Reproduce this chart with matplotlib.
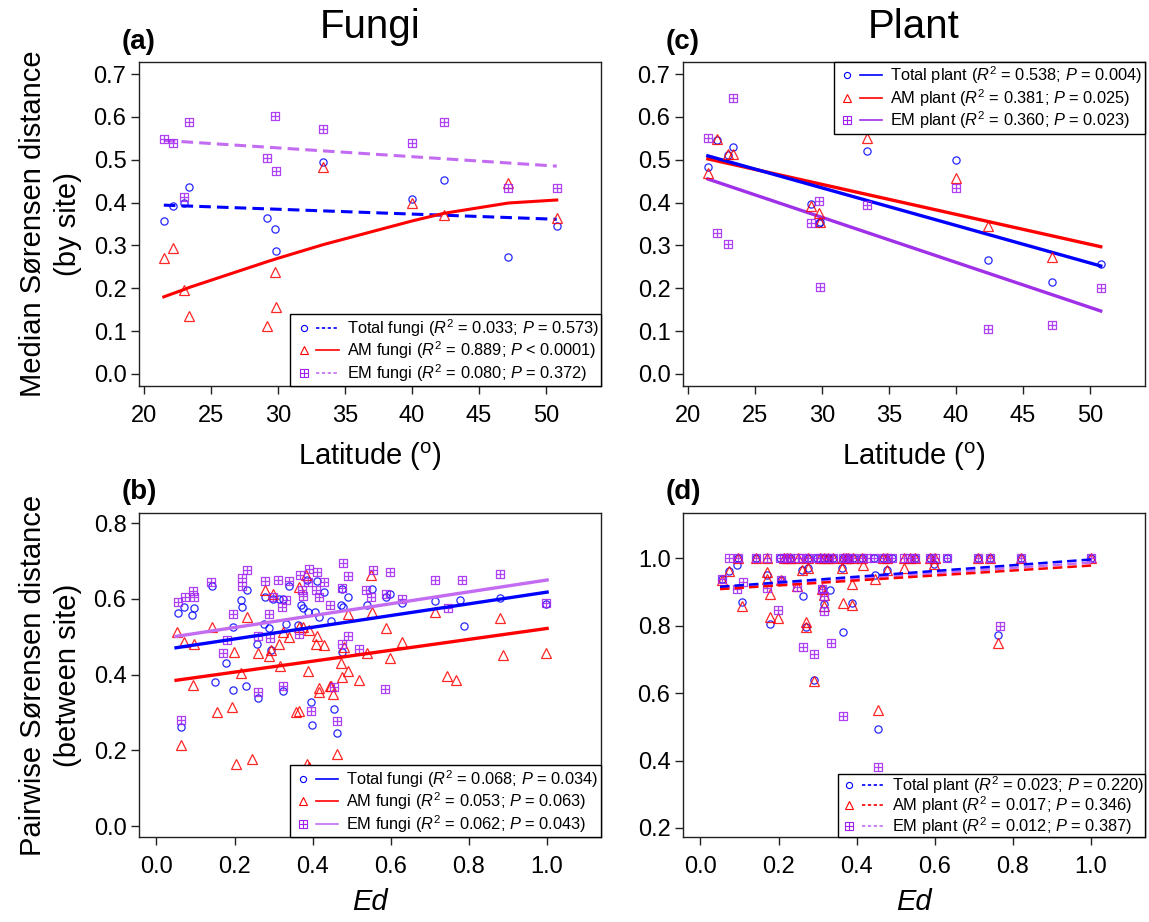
import numpy as np
import matplotlib.pyplot as plt
from matplotlib.path import Path
from matplotlib.lines import Line2D
from matplotlib.legend_handler import HandlerTuple

plt.rcParams['font.family'] = ['Liberation Sans', 'DejaVu Sans']
plt.rcParams['mathtext.fontset'] = 'custom'
plt.rcParams['mathtext.rm'] = 'Liberation Sans'
plt.rcParams['mathtext.it'] = 'Liberation Sans:italic'
plt.rcParams['mathtext.bf'] = 'Liberation Sans:bold'

# ---------------- data ----------------
# (a) fungi, by site
lat_sites = [21.5, 22.2, 23.0, 23.4, 29.2, 29.8, 29.9, 33.4, 40.0, 42.4, 47.2, 50.8]
fungi_total = [0.357, 0.392, 0.400, 0.436, 0.363, 0.338, 0.287, 0.494, 0.408, 0.453, 0.273, 0.345]
fungi_am = [0.271, 0.295, 0.197, 0.135, 0.113, 0.237, 0.157, 0.483, 0.400, 0.370, 0.445, 0.365]
fungi_em = [0.549, 0.540, 0.412, 0.589, 0.505, 0.603, 0.474, 0.572, 0.539, 0.588, 0.435, 0.435]
fungi_am_fit = [0.180, 0.188, 0.197, 0.202, 0.262, 0.268, 0.269, 0.302, 0.357, 0.375, 0.399, 0.406]
lat_range = [21.5, 50.8]
fungi_total_fit = [0.394, 0.361]
fungi_em_fit = [0.545, 0.485]

# (c) plant, by site
plant_total = [0.482, 0.545, 0.510, 0.530, 0.396, 0.353, 0.355, 0.521, 0.499, 0.265, 0.215, 0.257]
lat_am_plant = [21.5, 22.2, 23.0, 23.4, 29.2, 29.8, 29.9, 33.4, 40.0, 42.4, 47.2]
plant_am = [0.470, 0.548, 0.513, 0.513, 0.392, 0.375, 0.355, 0.551, 0.457, 0.346, 0.272]
plant_em = [0.551, 0.330, 0.303, 0.643, 0.353, 0.404, 0.203, 0.394, 0.435, 0.106, 0.114, 0.200]
plant_total_fit = [0.509, 0.252]
plant_am_fit = [0.502, 0.297]
plant_em_fit = [0.455, 0.147]

# (b) fungi, pairwise vs Ed
tb_x = [0.054, 0.071, 0.092, 0.096, 0.141, 0.178, 0.197, 0.216, 0.219, 0.231, 0.258, 0.275, 0.278, 0.289,
        0.292, 0.299, 0.314, 0.323, 0.332, 0.339, 0.363, 0.370, 0.376, 0.385, 0.389, 0.406, 0.410, 0.416,
        0.430, 0.446, 0.472, 0.476, 0.478, 0.474, 0.491, 0.538, 0.553, 0.587, 0.598, 0.629, 0.713, 0.455,
        0.461, 0.063, 0.260, 0.396, 0.399, 0.778, 0.880, 0.998, 0.787, 0.196, 0.324, 0.150, 0.230]
tb_y = [0.563, 0.579, 0.557, 0.575, 0.634, 0.430, 0.526, 0.597, 0.579, 0.623, 0.480, 0.535, 0.605, 0.522,
        0.466, 0.601, 0.601, 0.601, 0.535, 0.634, 0.531, 0.584, 0.577, 0.649, 0.566, 0.566, 0.648, 0.551,
        0.619, 0.542, 0.584, 0.625, 0.579, 0.459, 0.604, 0.585, 0.626, 0.604, 0.613, 0.588, 0.594, 0.309,
        0.245, 0.262, 0.338, 0.327, 0.267, 0.597, 0.602, 0.586, 0.528, 0.359, 0.356, 0.380, 0.370]
ab_x = [0.052, 0.071, 0.096, 0.093, 0.141, 0.198, 0.216, 0.231, 0.261, 0.278, 0.289, 0.292, 0.299, 0.314,
        0.316, 0.323, 0.339, 0.366, 0.366, 0.376, 0.382, 0.387, 0.390, 0.408, 0.410, 0.430, 0.416, 0.447,
        0.472, 0.474, 0.480, 0.489, 0.491, 0.519, 0.538, 0.549, 0.553, 0.587, 0.598, 0.629, 0.713, 0.461,
        0.365, 0.416, 0.443, 0.453, 0.063, 0.155, 0.204, 0.245, 0.386, 0.390, 0.357, 0.194, 0.744, 0.767,
        0.880, 0.888, 0.998]
ab_y = [0.513, 0.485, 0.482, 0.372, 0.526, 0.459, 0.403, 0.551, 0.456, 0.623, 0.450, 0.465, 0.613, 0.480,
        0.422, 0.513, 0.500, 0.632, 0.526, 0.526, 0.663, 0.409, 0.519, 0.480, 0.502, 0.478, 0.364, 0.370,
        0.431, 0.394, 0.473, 0.410, 0.559, 0.385, 0.456, 0.663, 0.566, 0.522, 0.445, 0.485, 0.566, 0.190,
        0.304, 0.355, 0.370, 0.350, 0.214, 0.301, 0.164, 0.177, 0.164, 0.156, 0.301, 0.314, 0.396, 0.385,
        0.549, 0.452, 0.457]
eb_x = [0.054, 0.073, 0.093, 0.096, 0.140, 0.169, 0.180, 0.197, 0.218, 0.220, 0.231, 0.261, 0.278, 0.289,
        0.291, 0.298, 0.312, 0.321, 0.331, 0.339, 0.365, 0.367, 0.372, 0.374, 0.391, 0.389, 0.408, 0.410,
        0.417, 0.430, 0.444, 0.474, 0.474, 0.478, 0.489, 0.491, 0.519, 0.536, 0.549, 0.555, 0.587, 0.598,
        0.629, 0.713, 0.461, 0.455, 0.063, 0.260, 0.324, 0.396, 0.585, 0.746, 0.783, 0.880, 0.998]
eb_y = [0.591, 0.605, 0.620, 0.604, 0.645, 0.456, 0.491, 0.559, 0.654, 0.634, 0.676, 0.502, 0.648, 0.559,
        0.496, 0.604, 0.651, 0.579, 0.597, 0.648, 0.507, 0.663, 0.623, 0.607, 0.680, 0.645, 0.623, 0.671,
        0.605, 0.645, 0.584, 0.628, 0.481, 0.694, 0.502, 0.660, 0.467, 0.623, 0.605, 0.676, 0.613, 0.671,
        0.601, 0.651, 0.278, 0.368, 0.280, 0.354, 0.370, 0.305, 0.362, 0.575, 0.650, 0.665, 0.590]
ed_range = [0.05, 1.0]
fungi_total_ed_fit = [0.471, 0.618]
fungi_am_ed_fit = [0.385, 0.522]
fungi_em_ed_fit = [0.501, 0.650]

# (d) plant, pairwise vs Ed
td_x = [0.097, 0.142, 0.204, 0.229, 0.276, 0.298, 0.315, 0.327, 0.340, 0.366, 0.378, 0.391, 0.413, 0.443,
        0.468, 0.490, 0.549, 0.588, 0.630, 0.711, 0.740, 0.820, 1.000,
        0.093, 0.073, 0.054, 0.107, 0.171, 0.178, 0.205, 0.262, 0.260, 0.276, 0.269, 0.291, 0.310, 0.332,
        0.317, 0.366, 0.389, 0.363, 0.447, 0.478, 0.598, 0.455, 0.762]
td_y = [1.0] * 23 + [0.980, 0.962, 0.938, 0.870, 0.950, 0.805, 0.937, 0.890, 0.965, 0.972, 0.797, 0.640,
                     0.910, 0.906, 0.865, 0.782, 0.869, 0.972, 0.952, 0.967, 0.983, 0.493, 0.772]
ad_x = [0.097, 0.142, 0.171, 0.213, 0.221, 0.229, 0.250, 0.276, 0.306, 0.315, 0.327, 0.340, 0.366, 0.372,
        0.378, 0.391, 0.413, 0.468, 0.477, 0.521, 0.536, 0.549, 0.588, 0.600, 0.711, 0.740, 0.820, 1.000,
        0.073, 0.054, 0.107, 0.171, 0.171, 0.178, 0.178, 0.199, 0.205, 0.246, 0.260, 0.276, 0.269, 0.269,
        0.291, 0.310, 0.316, 0.317, 0.364, 0.389, 0.389, 0.363, 0.415, 0.447, 0.478, 0.521, 0.598, 0.455,
        0.762]
ad_y = [1.0] * 28 + [0.962, 0.935, 0.858, 0.960, 0.940, 0.894, 0.827, 0.824, 0.937, 0.919, 0.965, 0.972,
                     0.812, 0.797, 0.637, 0.908, 0.893, 0.858, 0.869, 0.923, 0.861, 0.972, 0.980, 0.938,
                     0.967, 0.973, 0.983, 0.550, 0.749]
ed_x = [0.072, 0.097, 0.142, 0.171, 0.204, 0.213, 0.221, 0.229, 0.250, 0.262, 0.276, 0.298, 0.306, 0.315,
        0.327, 0.340, 0.366, 0.372, 0.378, 0.391, 0.413, 0.426, 0.443, 0.468, 0.477, 0.490, 0.521, 0.536,
        0.549, 0.588, 0.600, 0.630, 0.711, 0.740, 0.820, 1.000,
        0.054, 0.108, 0.093, 0.171, 0.198, 0.205, 0.246, 0.262, 0.291, 0.310, 0.316, 0.316, 0.333, 0.366,
        0.455, 0.767]
ed_y = [1.0] * 36 + [0.940, 0.929, 0.908, 0.913, 0.847, 0.935, 0.916, 0.736, 0.716, 0.910, 0.890, 0.845,
                     0.750, 0.533, 0.382, 0.800]
plant_total_ed_fit = [0.916, 0.997]
plant_am_ed_fit = [0.909, 0.979]
plant_em_ed_fit = [0.913, 0.988]

# ---------------- styling ----------------
BLUE = '#0000FF'
RED = '#FF0000'
PURPLE = '#A020F0'
PURPLE_LINE = '#C36CF2'
W, H = 1149, 922

sqplus = Path([(-1, -1), (1, -1), (1, 1), (-1, 1), (-1, -1), (0, -1), (0, 1), (-1, 0), (1, 0)],
              [Path.MOVETO, Path.LINETO, Path.LINETO, Path.LINETO, Path.CLOSEPOLY,
               Path.MOVETO, Path.LINETO, Path.MOVETO, Path.LINETO])

MK = {'total': ('o', 5.2, BLUE), 'am': ('^', 7.5, RED), 'em': (sqplus, 6.0, PURPLE)}
DASH = (0, (3.8, 2.0))


def pts(ax, x, y, kind):
    m, ms, c = MK[kind]
    ax.plot(x, y, ls='none', marker=m, ms=ms, mfc='none', mec=c, mew=0.9, alpha=0.85)


def add_axes(px_left, px_top):
    return fig.add_axes([px_left / W, 1 - (px_top + 324) / H, 462 / W, 324 / H])


def style(ax, xticks, yticks, xlim, ylim):
    ax.set_xlim(*xlim)
    ax.set_ylim(*ylim)
    ax.set_xticks(xticks)
    ax.set_yticks(yticks)
    ax.set_yticklabels(['%.1f' % v for v in yticks])
    ax.tick_params(axis='both', direction='out', length=6, width=1, labelsize=17, color='#222222')
    ax.tick_params(axis='x', pad=8)
    ax.tick_params(axis='y', pad=3)
    for s in ax.spines.values():
        s.set_linewidth(1.0)
        s.set_color('#222222')


def legend(ax, labels, lstyles, lcolors, loc, spacing=0.05, bpad=0.15):
    handles = []
    for kind, ls, lc in zip(['total', 'am', 'em'], lstyles, lcolors):
        m, ms, c = MK[kind]
        mh = Line2D([], [], ls='none', marker=m, ms=ms * 0.85, mfc='none', mec=c, mew=0.8)
        lh = Line2D([], [], color=lc, ls=ls, lw=1.2)
        handles.append((mh, lh))
    lg = ax.legend(handles, labels, handler_map={tuple: HandlerTuple(ndivide=None, pad=0.1)},
                   loc=loc, fontsize=11.8, frameon=True, fancybox=False, edgecolor='black',
                   framealpha=1, borderpad=bpad, labelspacing=spacing, handlelength=2.8,
                   handletextpad=0.5, borderaxespad=0)
    lg.get_frame().set_linewidth(1.0)


def lab(name, r2, p, sign='='):
    return r'%s ($\it{R}^2$ = %s; $\it{P}$ %s %s)' % (name, r2, sign, p)


fig = plt.figure(figsize=(W / 100, H / 100), dpi=100)

# (a)
ax = add_axes(139, 62)
ax.plot(lat_range, fungi_em_fit, color=PURPLE_LINE, lw=2.2, ls=DASH)
ax.plot(lat_range, fungi_total_fit, color=BLUE, lw=2.2, ls=DASH)
ax.plot(lat_sites, fungi_am_fit, color=RED, lw=2.2)
pts(ax, lat_sites, fungi_total, 'total')
pts(ax, lat_sites, fungi_am, 'am')
pts(ax, lat_sites, fungi_em, 'em')
style(ax, np.arange(20, 51, 5), np.round(np.arange(0, 0.71, 0.1), 1), (19.65, 54.1), (-0.028, 0.728))
legend(ax, [lab('Total fungi', '0.033', '0.573'), lab('AM fungi', '0.889', '0.0001', '<'),
            lab('EM fungi', '0.080', '0.372')],
       [(0, (2, 1.5)), '-', (0, (2, 1.5))], [BLUE, RED, PURPLE_LINE], 'lower right')

# (c)
ax = add_axes(683, 62)
ax.plot(lat_range, plant_em_fit, color='#A030E8', lw=2.4)
ax.plot(lat_range, plant_am_fit, color=RED, lw=2.4)
ax.plot(lat_range, plant_total_fit, color=BLUE, lw=2.4)
pts(ax, lat_sites, plant_total, 'total')
pts(ax, lat_am_plant, plant_am, 'am')
pts(ax, lat_sites, plant_em, 'em')
style(ax, np.arange(20, 51, 5), np.round(np.arange(0, 0.71, 0.1), 1), (19.65, 54.1), (-0.028, 0.728))
legend(ax, [lab('Total plant', '0.538', '0.004'), lab('AM plant', '0.381', '0.025'),
            lab('EM plant', '0.360', '0.023')],
       ['-', '-', '-'], [BLUE, RED, '#A030E8'], 'upper right')

# (b)
ax = add_axes(139, 513)
pts(ax, tb_x, tb_y, 'total')
pts(ax, ab_x, ab_y, 'am')
pts(ax, eb_x, eb_y, 'em')
ax.plot(ed_range, fungi_em_ed_fit, color=PURPLE_LINE, lw=2.4)
ax.plot(ed_range, fungi_total_ed_fit, color=BLUE, lw=2.4)
ax.plot(ed_range, fungi_am_ed_fit, color=RED, lw=2.4)
style(ax, np.round(np.arange(0, 1.01, 0.2), 1), np.round(np.arange(0, 0.81, 0.2), 1),
      (-0.0448, 1.138), (-0.029, 0.827))
legend(ax, [lab('Total fungi', '0.068', '0.034'), lab('AM fungi', '0.053', '0.063'),
            lab('EM fungi', '0.062', '0.043')],
       ['-', '-', '-'], [BLUE, RED, PURPLE_LINE], 'lower right')

# (d)
ax = add_axes(683, 513)
pts(ax, td_x, td_y, 'total')
pts(ax, ad_x, ad_y, 'am')
pts(ax, ed_x, ed_y, 'em')
ax.plot(ed_range, plant_em_ed_fit, color=PURPLE_LINE, lw=1.8, ls=DASH)
ax.plot(ed_range, plant_am_ed_fit, color=RED, lw=1.8, ls=DASH)
ax.plot(ed_range, plant_total_ed_fit, color=BLUE, lw=1.8, ls=DASH)
style(ax, np.round(np.arange(0, 1.01, 0.2), 1), np.round(np.arange(0.2, 1.01, 0.2), 1),
      (-0.0448, 1.138), (0.173, 1.135))
legend(ax, [lab('Total plant', '0.023', '0.220'), lab('AM plant', '0.017', '0.346'),
            lab('EM plant', '0.012', '0.387')],
       [(0, (2, 1.5))] * 3, [BLUE, RED, PURPLE_LINE], 'lower right', spacing=-0.08, bpad=0.03)

# text
def ftext(x, y, s, **kw):
    fig.text(x / W, 1 - y / H, s, ha='center', va='center', **kw)


ftext(370, 27, 'Fungi', fontsize=29)
ftext(914, 27, 'Plant', fontsize=29)
ftext(139, 42, '(a)', fontsize=20, fontweight='bold')
ftext(683, 42, '(c)', fontsize=20, fontweight='bold')
ftext(139, 492, '(b)', fontsize=20, fontweight='bold')
ftext(683, 492, '(d)', fontsize=20, fontweight='bold')
ftext(370, 457, r'Latitude ($^{\rm o}$)', fontsize=21)
ftext(914, 457, r'Latitude ($^{\rm o}$)', fontsize=21)
ftext(370, 902, 'Ed', fontsize=21, style='italic')
ftext(914, 902, 'Ed', fontsize=21, style='italic')
ftext(33, 224, 'Median Sørensen distance', fontsize=21, rotation=90)
ftext(68, 224, '(by site)', fontsize=21, rotation=90)
ftext(33, 675, 'Pairwise Sørensen distance', fontsize=21, rotation=90)
ftext(68, 675, '(between site)', fontsize=21, rotation=90)

fig.savefig('out.png', dpi=100)
